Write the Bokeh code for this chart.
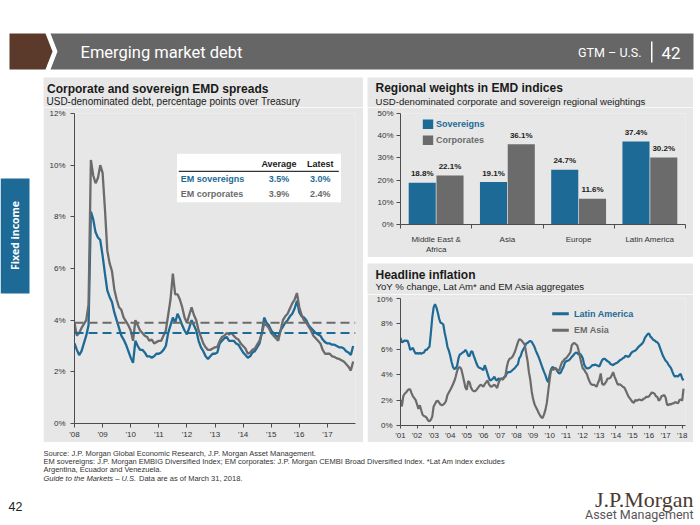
import math
from bokeh.plotting import figure
from bokeh.layouts import column, row
from bokeh.models import (Range1d, Label, LabelSet, BoxAnnotation, FixedTicker,
                          PrintfTickFormatter, ColumnDataSource, Spacer, Span)
from bokeh.transform import dodge
from bokeh.core.properties import value
from bokeh.embed import file_html
from bokeh.resources import INLINE

# ---------------- data ----------------
spread_start = 2008
spread_names = ["EM sovereigns", "EM corporates"]
sov_spread = [3.1, 2.85, 2.65, 2.8, 3.1, 3.4, 3.8, 8.2, 7.9, 7.4, 7.2, 7.1,
              6.5, 5.8, 5.15, 4.9, 4.7, 4.3, 4.0, 3.7, 3.4, 3.25, 3.05, 2.8,
              2.55, 2.35, 3.2, 3.0, 2.85, 2.85, 2.75, 2.6, 2.6, 2.55, 2.6, 2.7,
              2.7, 2.75, 2.85, 3.0, 3.5, 3.8, 4.1, 3.9, 4.25, 4.05, 3.8, 3.6,
              3.45, 3.7, 4.0, 3.8, 3.6, 3.2, 2.95, 2.8, 2.6, 2.5, 2.6, 2.7,
              2.7, 2.75, 3.1, 3.2, 3.3, 3.35, 3.2, 3.2, 3.2, 3.1, 3.05, 2.9,
              2.75, 2.65, 2.55, 2.6, 2.75, 2.8, 2.95, 3.1, 3.5, 4.1, 3.9, 3.8,
              3.6, 3.5, 3.4, 3.35, 3.6, 3.75, 3.9, 4.0, 4.15, 4.25, 4.45, 4.75,
              4.3, 4.15, 4.1, 4.0, 3.8, 3.7, 3.6, 3.5, 3.45, 3.4, 3.25, 3.15,
              3.1, 3.1, 3.05, 3.05, 3.0, 2.95, 2.95, 2.9, 2.8, 2.75, 2.65, 3.0]
corp_spread = [3.9, 3.4, 3.5, 3.7, 3.85, 4.0, 4.6, 10.2, 9.6, 9.3, 9.5, 10.0,
               9.7, 8.3, 6.7, 6.2, 5.9, 5.2, 4.8, 4.5, 4.4, 4.1, 3.95, 3.8,
               3.6, 3.2, 4.0, 3.8, 3.6, 3.5, 3.4, 3.35, 3.2, 3.25, 3.1, 3.15,
               3.2, 3.2, 3.4, 3.6, 4.2, 4.8, 5.8, 5.0, 5.0, 4.8, 4.5, 4.1,
               3.9, 4.2, 4.5, 4.2, 4.0, 3.6, 3.35, 3.1, 2.95, 2.85, 2.85, 2.9,
               2.95, 2.97, 3.2, 3.35, 3.4, 3.5, 3.45, 3.5, 3.4, 3.3, 3.25, 3.1,
               3.0, 2.9, 2.7, 2.75, 2.85, 2.9, 3.05, 3.2, 3.5, 3.85, 3.8, 3.7,
               3.5, 3.4, 3.3, 3.2, 3.6, 4.0, 4.15, 4.25, 4.45, 4.65, 4.8, 5.05,
               4.5, 4.2, 4.0, 3.9, 3.75, 3.6, 3.4, 3.3, 3.2, 3.1, 2.85, 2.7,
               2.7, 2.7, 2.6, 2.58, 2.52, 2.5, 2.45, 2.4, 2.3, 2.2, 2.05, 2.4]
spread_avg = [3.5, 3.9]
spread_latest = [3.0, 2.4]
spread_year_ticks = [2008, 2009, 2010, 2011, 2012, 2013, 2014, 2015, 2016, 2017]
spread_year_labels = ["'08", "'09", "'10", "'11", "'12", "'13", "'14", "'15", "'16", "'17"]
spread_y_ticks = [0, 2, 4, 6, 8, 10, 12]

regions = ["Middle East &\nAfrica", "Asia", "Europe", "Latin America"]
weight_series = ["Sovereigns", "Corporates"]
sov_weights = [18.8, 19.1, 24.7, 37.4]
corp_weights = [22.1, 36.1, 11.6, 30.2]
weight_y_ticks = [0, 10, 20, 30, 40, 50]

infl_start = 2001
infl_names = ["Latin America", "EM Asia"]
latam_infl = [6.9, 6.55, 6.6, 6.7, 6.65, 6.7, 6.4, 5.95, 6.05, 6.1, 5.85, 5.65,
              5.7, 5.65, 5.7, 5.65, 5.7, 5.75, 5.95, 5.95, 6.1, 6.2, 7.3, 8.5,
              9.3, 9.55, 9.3, 8.9, 8.4, 8.1, 8.05, 7.95, 7.3, 6.8, 6.2, 5.9,
              5.5, 5.0, 4.6, 4.45, 4.5, 4.7, 5.3, 5.6, 5.65, 5.75, 5.8, 5.95,
              5.8, 5.5, 5.45, 5.8, 5.85, 5.5, 5.2, 4.9, 4.65, 4.55, 4.5, 4.45,
              4.35, 4.75, 4.45, 4.1, 3.75, 3.55, 3.6, 3.7, 3.85, 3.6, 3.55, 3.7,
              3.65, 3.7, 3.65, 3.8, 3.85, 4.1, 4.2, 4.2, 4.25, 4.35, 4.45, 4.55,
              4.7, 4.8, 5.3, 5.45, 5.8, 6.0, 6.2, 6.45, 6.5, 6.6, 6.65, 6.6,
              6.4, 6.2, 5.9, 5.65, 5.4, 5.1, 4.8, 4.5, 4.2, 3.95, 3.6, 3.4,
              4.0, 4.4, 4.6, 4.55, 4.5, 4.4, 4.2, 4.1, 4.15, 4.4, 4.6, 4.95,
              5.05, 5.1, 5.14, 5.25, 5.4, 5.5, 5.65, 5.75, 5.7, 5.6, 5.65, 5.5,
              5.3, 4.8, 4.6, 4.5, 4.5, 4.55, 4.65, 4.75, 4.75, 4.8, 4.75, 4.7,
              4.65, 4.9, 5.15, 5.25, 5.25, 5.15, 5.05, 5.0, 4.85, 4.8, 4.75, 4.85,
              4.9, 4.95, 5.05, 5.15, 5.2, 5.3, 5.35, 5.5, 5.45, 5.4, 5.5, 5.7,
              5.8, 5.85, 5.9, 6.0, 6.15, 6.25, 6.35, 6.45, 6.6, 6.9, 7.05, 7.2,
              7.25, 7.0, 6.9, 6.75, 6.7, 6.6, 6.55, 6.4, 6.1, 5.8, 5.5, 5.3,
              5.1, 5.0, 4.8, 4.65, 4.5, 4.2, 3.95, 3.85, 3.9, 3.85, 4.0, 4.05,
              3.7, 3.55]
asia_infl = [2.0, 1.5, 2.3, 2.5, 2.6, 2.75, 2.85, 2.85, 2.55, 2.3, 2.15, 2.0,
             1.65, 1.3, 1.6, 1.2, 0.85, 0.75, 0.7, 0.6, 0.4, 0.34, 0.45, 0.7,
             1.5, 1.7, 1.9, 1.95, 1.8, 1.65, 1.6, 1.65, 1.75, 1.95, 2.4, 2.6,
             2.8, 3.0, 3.25, 3.5, 3.85, 4.3, 4.55, 4.6, 4.45, 4.0, 3.5, 3.0,
             2.8, 3.5, 3.4, 3.0, 2.8, 2.7, 2.7, 2.8, 2.95, 3.1, 3.2, 3.15,
             3.05, 3.25, 3.4, 3.55, 3.25, 3.1, 3.05, 3.15, 3.2, 3.1, 2.95, 3.35,
             3.6, 3.7, 3.6, 3.75, 3.95, 4.6, 5.05, 5.25, 5.3, 5.4, 5.6, 5.85,
             6.2, 6.55, 6.8, 6.75, 6.65, 6.5, 6.35, 5.7, 5.1, 4.2, 3.6, 2.7,
             2.1, 1.7, 1.45, 1.25, 1.0, 0.8, 0.65, 0.6, 0.9, 1.25, 1.8, 2.7,
             3.6, 4.4, 4.4, 4.4, 4.55, 4.45, 4.3, 4.35, 4.7, 5.0, 5.1, 5.25,
             5.3, 5.45, 5.6, 5.75, 6.3, 6.45, 6.5, 6.4, 6.3, 5.9, 5.4, 4.9,
             4.5, 4.4, 4.2, 4.05, 3.7, 3.45, 3.25, 3.2, 3.2, 3.15, 3.05, 3.35,
             3.6, 4.1, 3.3, 3.2, 3.3, 3.45, 3.7, 3.7, 3.75, 3.95, 4.2, 3.85,
             3.6, 3.3, 3.2, 3.25, 3.15, 3.05, 3.0, 2.8, 2.55, 2.3, 2.15, 2.0,
             1.85, 1.8, 2.0, 1.95, 2.0, 2.05, 2.0, 2.0, 2.1, 2.15, 2.25, 2.25,
             2.3, 2.45, 2.6, 2.55, 2.5, 2.3, 2.25, 1.95, 2.05, 2.3, 2.35, 2.4,
             2.2, 1.65, 1.6, 1.7, 1.65, 1.75, 1.75, 1.85, 1.8, 1.75, 2.0, 2.05,
             1.95, 2.9]
infl_year_ticks = list(range(2001, 2019))
infl_year_labels = ["'01", "'02", "'03", "'04", "'05", "'06", "'07", "'08", "'09",
                    "'10", "'11", "'12", "'13", "'14", "'15", "'16", "'17", "'18"]
infl_y_ticks = [0, 2, 4, 6, 8, 10]

footer_lines = [
    "Source: J.P. Morgan Global Economic Research, J.P. Morgan Asset Management.",
    "EM sovereigns: J.P. Morgan EMBIG Diversified Index; EM corporates: J.P. Morgan CEMBI Broad Diversified Index. *Lat Am index excludes",
    "Argentina, Ecuador and Venezuela.",
]

# ---------------- style ----------------
FONT = "Liberation Sans"
BLUE = "#1d6a96"
GRAY = "#6b6b6b"
PANEL = "#e7e7e7"
AXIS = "#4d4d4d"
TXT = "#1a1a1a"


def make_panel(w, h, bl, br, bt, bb, xr, yr, ox, oy):
    """Chart figure; conv maps page pixel coords to data coords."""
    p = figure(width=w, height=h, x_range=Range1d(*xr), y_range=Range1d(*yr),
               min_border_left=bl, min_border_right=br, min_border_top=bt,
               min_border_bottom=bb, toolbar_location=None, output_backend="svg",
               background_fill_color=PANEL, border_fill_color=PANEL,
               outline_line_color=None, frame_align=False)
    p.grid.visible = False
    fl, fr, ft, fb = bl, w - br, bt, h - bb

    def conv(px, py):
        px -= ox
        py -= oy
        x = xr[0] + (px - fl) / (fr - fl) * (xr[1] - xr[0])
        y = yr[0] + (fb - py) / (fb - ft) * (yr[1] - yr[0])
        return x, y
    return p, conv


def make_canvas(w, h, ox, oy, bg="white"):
    p = figure(width=w, height=h, x_range=Range1d(0, w), y_range=Range1d(h, 0),
               min_border=0, toolbar_location=None, output_backend="svg",
               x_axis_type=None, y_axis_type=None, background_fill_color=bg,
               border_fill_color=bg, outline_line_color=None, frame_align=False)
    p.grid.visible = False
    return p, (lambda px, py: (px - ox, py - oy))


def txt(p, conv, px, py, text, size, color=TXT, style="normal", align="left",
        font=FONT, angle=0.0, baseline="middle"):
    x, y = conv(px, py)
    p.add_layout(Label(x=x, y=y, text=text, text_font=font,
                       text_font_size=f"{size}px", text_font_style=style,
                       text_color=color, text_align=align, text_baseline=baseline,
                       angle=angle))


def box(p, conv, x0, y0, x1, y1, color, level="overlay"):
    l, t = conv(x0, y0)
    r, b = conv(x1, y1)
    p.add_layout(BoxAnnotation(left=l, right=r, top=t, bottom=b, fill_color=color,
                               fill_alpha=1.0, line_color=None, level=level))


def style_axes(p, ytick_out=4, ystand=4, xstand=2, xtick_out=4):
    for ax in p.axis:
        ax.axis_line_color = AXIS
        ax.axis_line_width = 1
        ax.major_tick_line_color = AXIS
        ax.minor_tick_line_color = None
        ax.major_tick_in = 0
        ax.major_label_text_font = FONT
        ax.major_label_text_font_size = "8px"
        ax.major_label_text_color = "#333333"
    p.yaxis.major_tick_out = ytick_out
    p.yaxis.major_label_standoff = ystand
    p.xaxis.major_tick_out = xtick_out
    p.xaxis.major_label_standoff = xstand


# ---------------- left panel: spreads ----------------
t1, ct1 = make_canvas(320, 30, 43, 77, bg=PANEL)
txt(t1, ct1, 46.5, 88.3, "Corporate and sovereign EMD spreads", 12, style="bold")
txt(t1, ct1, 46, 100.7, "USD-denominated debt, percentage points over Treasury", 10)

p1, c1 = make_panel(320, 335, 31, 8, 6, 19, (2008, 2018), (0, 12), 43, 107)
sx = [spread_start + i / 12 for i in range(len(sov_spread))]
p1.line(sx, sov_spread, line_color=BLUE, line_width=2.3)
p1.line(sx, corp_spread, line_color=GRAY, line_width=2.3)
for avg, col in zip(spread_avg, [BLUE, GRAY]):
    p1.add_layout(Span(location=avg, dimension="width", line_color=col,
                       line_width=2, line_dash="9 5"))
p1.xaxis.ticker = FixedTicker(ticks=spread_year_ticks)
p1.xaxis.major_label_overrides = dict(zip(spread_year_ticks, spread_year_labels))
p1.yaxis.ticker = FixedTicker(ticks=spread_y_ticks)
p1.yaxis.formatter = PrintfTickFormatter(format="%d%%")
style_axes(p1, ystand=5, xstand=2)

# summary table
box(p1, c1, 176.5, 153.3, 340.5, 201.7, "white", level="underlay")
box(p1, c1, 178.3, 170.3, 338.3, 171.6, "#333333", level="underlay")
txt(p1, c1, 278.5, 163.3, "Average", 9, style="bold", align="center")
txt(p1, c1, 319.7, 163.3, "Latest", 9, style="bold", align="center")
for i, (nm, a, lt, col) in enumerate(zip(spread_names, spread_avg, spread_latest, [BLUE, GRAY])):
    yy = 178.5 + i * 14.7
    txt(p1, c1, 180.3, yy, nm, 9, color=col, style="bold")
    txt(p1, c1, 278.5, yy, f"{a:.1f}%", 9, color=col, style="bold", align="center")
    txt(p1, c1, 319.7, yy, f"{lt:.1f}%", 9, color=col, style="bold", align="center")

left_panel = column(t1, p1, spacing=0)

# ---------------- right top: regional weights ----------------
t2, ct2 = make_canvas(326, 30, 367, 77, bg=PANEL)
txt(t2, ct2, 375, 87.3, "Regional weights in EMD indices", 12, style="bold")
txt(t2, ct2, 375, 101, "USD-denominated corporate and sovereign regional weightings", 9.6)

p2, c2 = make_panel(326, 150, 33, 8, 6, 27, (0, 4), (0, 50), 367, 107)
xc = [i + 0.5 for i in range(len(regions))]
src = ColumnDataSource(dict(xc=xc, sov=sov_weights, corp=corp_weights,
                            sov_lbl=[f"{v:.1f}%" for v in sov_weights],
                            corp_lbl=[f"{v:.1f}%" for v in corp_weights]))
p2.vbar(x=dodge("xc", -0.195, range=p2.x_range), top="sov", width=0.38,
        source=src, fill_color=BLUE, line_color=None)
p2.vbar(x=dodge("xc", 0.195, range=p2.x_range), top="corp", width=0.38,
        source=src, fill_color=GRAY, line_color=None)
for off, col_name in [(-0.195, "sov"), (0.195, "corp")]:
    p2.add_layout(LabelSet(x=dodge("xc", off, range=p2.x_range), y=col_name,
                           text=col_name + "_lbl", source=src, y_offset=9,
                           text_align="center", text_baseline="middle",
                           text_font=value(FONT), text_font_size="8px",
                           text_font_style="bold", text_color="#222222"))
p2.yaxis.ticker = FixedTicker(ticks=weight_y_ticks)
p2.yaxis.formatter = PrintfTickFormatter(format="%d%%")
p2.xaxis.ticker = FixedTicker(ticks=xc, minor_ticks=list(range(len(regions) + 1)))
p2.xaxis.major_label_overrides = dict(zip(xc, regions))
style_axes(p2, ystand=3, xstand=6, xtick_out=0)
p2.xaxis.minor_tick_line_color = AXIS
p2.xaxis.minor_tick_out = 4
p2.xaxis.minor_tick_in = 0

for i, (nm, col) in enumerate(zip(weight_series, [BLUE, GRAY])):
    yy = 124.3 + i * 16.8
    box(p2, c2, 422.3, yy - 5, 432.7, yy + 5, col)
    txt(p2, c2, 435.5, yy, nm, 9, color=col, style="bold")

weights_panel = column(t2, p2, spacing=0)

# ---------------- right bottom: inflation ----------------
t3, ct3 = make_canvas(326, 31, 367, 263, bg=PANEL)
txt(t3, ct3, 375, 274.3, "Headline inflation", 12, style="bold")
txt(t3, ct3, 375, 286, "YoY % change, Lat Am* and EM Asia aggregates", 9.6)

p3, c3 = make_panel(326, 148, 33, 8, 4, 16, (2001, 2018.2), (0, 10), 367, 294)
ix = [infl_start + k / 12 for k in range(len(latam_infl))]
p3.line(ix, latam_infl, line_color=BLUE, line_width=2.2)
p3.line(ix, asia_infl, line_color=GRAY, line_width=2.2)
p3.xaxis.ticker = FixedTicker(ticks=infl_year_ticks)
p3.xaxis.major_label_overrides = dict(zip(infl_year_ticks, infl_year_labels))
p3.yaxis.ticker = FixedTicker(ticks=infl_y_ticks)
p3.yaxis.formatter = PrintfTickFormatter(format="%d%%")
style_axes(p3, ystand=4, xstand=2, xtick_out=3)

for i, (nm, col) in enumerate(zip(infl_names, [BLUE, GRAY])):
    yy = 313.3 + i * 16.7
    box(p3, c3, 551.7, yy - 1.5, 568.3, yy + 1.5, col)
    txt(p3, c3, 573.5, yy, nm, 9, color=col, style="bold")

infl_panel = column(t3, p3, spacing=0)

# ---------------- header ----------------
hdr, ch = make_canvas(700, 77, 0, 0)
hdr.patch([9, 45, 52, 45, 9], [33, 33, 51, 69, 69], fill_color="#5c3a2b", line_color=None)
hdr.patch([50, 693, 693, 50, 57], [33, 33, 69, 69, 51], fill_color="#666666", line_color=None)
txt(hdr, ch, 80, 51.5, "Emerging market debt", 16.5, color="white", font="Roboto")
txt(hdr, ch, 641, 52, "GTM – U.S.", 12.5, color="white", font="Roboto", align="right")
box(hdr, ch, 650.5, 41, 652, 62, "white")
txt(hdr, ch, 661, 52, "42", 17, color="white", font="Roboto")

# ---------------- side tab ----------------
side, cs = make_canvas(43, 365, 0, 77)
side.quad(left=0, right=29, top=178 - 77, bottom=293 - 77, fill_color="#1d6a96", line_color=None)
txt(side, cs, 14.5, 235, "Fixed income", 10.5, color="white", style="bold",
    font="Open Sans", align="center", angle=math.pi / 2)

# ---------------- footer ----------------
ftr, cf = make_canvas(700, 83, 0, 442)
for i, line in enumerate(footer_lines):
    txt(ftr, cf, 43, 452.5 + i * 8.4, line, 7.5, color="#333333")
txt(ftr, cf, 43, 477.7, "Guide to the Markets – U.S.", 7.5, color="#333333", style="italic")
txt(ftr, cf, 138.5, 477.7, "Data are as of March 31, 2018.", 7.5, color="#333333")
txt(ftr, cf, 8, 506, "42", 12.5, color="#222222")
txt(ftr, cf, 693, 499, "J.P.Morgan", 22, color="#4a3a30", font="Liberation Serif",
    align="right", baseline="alphabetic")
txt(ftr, cf, 693, 514, "Asset Management", 12.5, color="#555555", font="Roboto",
    align="right")

# ---------------- layout ----------------
right_col = column(weights_panel, Spacer(width=326, height=6), infl_panel, spacing=0)
mid = row(side, left_panel, Spacer(width=4, height=365), right_col,
          Spacer(width=7, height=365), spacing=0)
page = column(hdr, mid, ftr, spacing=0)

open("out.html", "w").write(file_html(page, INLINE))
